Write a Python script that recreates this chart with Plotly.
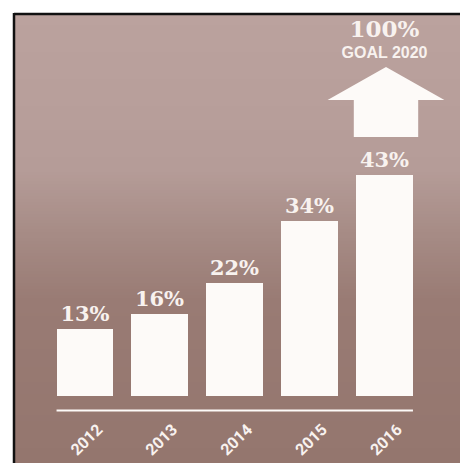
import plotly.graph_objects as go

# ---- data ----
years = ["2012", "2013", "2014", "2015", "2016"]
shares = [13, 16, 22, 34, 43]
share_labels = ["13%", "16%", "22%", "34%", "43%"]
goal_value_label = "100%"
goal_caption = "GOAL 2020"

# ---- canvas geometry (pixels) ----
W, H = 460, 463
PANEL_LEFT, PANEL_TOP = 13, 13
FIRST_BAR_CX, BAR_STEP = 85.0, 74.875      # centre of first bar, spacing between bars
PLOT_TOP, PLOT_BOTTOM = 15, 396
Y_MAX = 74

BAR_COLOR = "#fdfaf8"
TEXT_COLOR = "#f8f2ef"

# x range chosen so that category spacing is BAR_STEP pixels over the full width
x_lo = -FIRST_BAR_CX / BAR_STEP
x_hi = (W - FIRST_BAR_CX) / BAR_STEP


def px_x(p):
    return p / W


def px_y(p):
    return 1 - p / H


fig = go.Figure()
fig.add_trace(go.Bar(
    x=years, y=shares, width=0.76,
    marker=dict(color=BAR_COLOR, line=dict(width=0)),
    text=share_labels, textposition="outside", textangle=0,
    constraintext="none", cliponaxis=False,
    outsidetextfont=dict(family="DejaVu Serif", size=21, color=TEXT_COLOR,
                         weight="bold"),
    hoverinfo="skip",
))

# goal caption above the arrow
fig.add_trace(go.Scatter(
    x=[years[-1]], y=[70.8], mode="text", text=[goal_value_label],
    textposition="middle center", cliponaxis=False, hoverinfo="skip",
    textfont=dict(family="DejaVu Serif", size=23, color=TEXT_COLOR,
                  weight="bold"),
))
fig.add_trace(go.Scatter(
    x=[years[-1]], y=[66.4], mode="text", text=[goal_caption],
    textposition="middle center", cliponaxis=False, hoverinfo="skip",
    textfont=dict(family="Liberation Sans", size=16, color=TEXT_COLOR,
                  weight="bold"),
))

shapes = []

# vertical background gradient (light mauve at the top, darker brown below)
stops = [
    (13, (187, 162, 158)),
    (170, (181, 156, 152)),
    (235, (166, 139, 133)),
    (300, (153, 123, 116)),
    (463, (148, 118, 110)),
]
step = 3
row = PANEL_TOP
while row < H:
    mid = row + step / 2
    for (y0, c0), (y1, c1) in zip(stops[:-1], stops[1:]):
        if y0 <= mid <= y1:
            t = (mid - y0) / (y1 - y0)
            col = tuple(round(a + (b - a) * t) for a, b in zip(c0, c1))
            break
    else:
        col = stops[-1][1]
    shapes.append(dict(
        type="rect", xref="paper", yref="paper", layer="below",
        x0=px_x(PANEL_LEFT), x1=1.0,
        y0=px_y(min(row + step + 0.6, H)), y1=px_y(row),
        fillcolor="rgb(%d,%d,%d)" % col, line=dict(width=0),
    ))
    row += step

# dark frame on the top and left edges of the panel
shapes.append(dict(type="line", xref="paper", yref="paper", layer="below",
                   x0=px_x(PANEL_LEFT + 1), x1=1.0,
                   y0=px_y(PANEL_TOP + 1), y1=px_y(PANEL_TOP + 1),
                   line=dict(color="#111111", width=2.5)))
shapes.append(dict(type="line", xref="paper", yref="paper", layer="below",
                   x0=px_x(PANEL_LEFT + 1), x1=px_x(PANEL_LEFT + 1),
                   y0=0, y1=px_y(PANEL_TOP),
                   line=dict(color="#111111", width=2.5)))

# baseline under the bars
shapes.append(dict(type="line", xref="x", yref="paper",
                   x0=-0.38, x1=len(years) - 1 + 0.38,
                   y0=px_y(410.5), y1=px_y(410.5),
                   line=dict(color=BAR_COLOR, width=2)))

# upward arrow above the latest bar
xc = len(years) - 1 + 0.02
head_half, shaft_half = 0.78, 0.43
tip_y, head_y, shaft_y = 63.9, 57.5, 50.3
arrow_path = (
    f"M {xc - shaft_half},{shaft_y} L {xc - shaft_half},{head_y} "
    f"L {xc - head_half},{head_y} L {xc},{tip_y} L {xc + head_half},{head_y} "
    f"L {xc + shaft_half},{head_y} L {xc + shaft_half},{shaft_y} Z"
)
shapes.append(dict(type="path", xref="x", yref="y", path=arrow_path,
                   fillcolor=BAR_COLOR, line=dict(width=0)))

fig.update_layout(
    width=W, height=H,
    margin=dict(l=0, r=0, t=0, b=0),
    paper_bgcolor="white", plot_bgcolor="rgba(0,0,0,0)",
    showlegend=False,
    xaxis=dict(domain=[0, 1], type="category", range=[x_lo, x_hi],
               tickangle=-44, ticks="",
               tickfont=dict(family="Roboto", size=16, color=TEXT_COLOR,
                             weight="bold"),
               ticklabelshift=13, ticklabelstandoff=20,
               showgrid=False, zeroline=False, showline=False),
    yaxis=dict(domain=[px_y(PLOT_BOTTOM), px_y(PLOT_TOP)], range=[0, Y_MAX],
               showticklabels=False, showgrid=False, zeroline=False,
               showline=False, ticks=""),
    shapes=shapes,
    bargap=0,
)

fig.write_html("out.html", config=dict(displayModeBar=False))
